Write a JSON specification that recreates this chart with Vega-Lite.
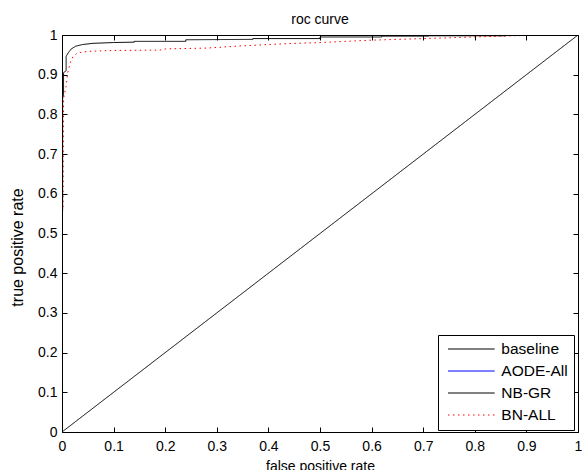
{
  "$schema": "https://vega.github.io/schema/vega-lite/v6.json",
  "width": 516,
  "height": 397,
  "autosize": {"type": "none"},
  "padding": {"left": 62, "top": 35, "right": 6, "bottom": 38},
  "background": "white",
  "config": {
    "font": "Liberation Sans",
    "view": {"stroke": null},
    "axis": {
      "domainColor": "black",
      "tickColor": "black",
      "labelColor": "black",
      "titleColor": "black",
      "labelFont": "Liberation Sans",
      "titleFont": "Liberation Sans",
      "labelFontSize": 14,
      "titleFontSize": 14,
      "titleFontWeight": "normal",
      "grid": false,
      "tickSize": -5,
      "zindex": 1
    },
    "legend": {
      "symbolType": "M-3.11,0H3.11",
      "symbolSize": 225,
      "symbolStrokeWidth": 1,
      "symbolOffset": 19.35,
      "labelOffset": 22,
      "labelFontSize": 15.5,
      "labelFont": "Liberation Sans",
      "labelColor": "black",
      "rowPadding": 5,
      "padding": 6,
      "strokeColor": "black",
      "fillColor": "white",
      "zindex": 2
    }
  },
  "title": {
    "text": "roc curve",
    "fontSize": 14,
    "fontWeight": "normal",
    "font": "Liberation Sans",
    "color": "black",
    "offset": 1
  },
  "data": {
    "values": [
      {"model": "AODE-All", "i": 0, "x": 0, "y": 0},
      {"model": "AODE-All", "i": 1, "x": 0, "y": 1},
      {"model": "AODE-All", "i": 2, "x": 1, "y": 1},
      {"model": "baseline", "i": 0, "x": 0, "y": 0},
      {"model": "baseline", "i": 1, "x": 1, "y": 1},
      {"model": "NB-GR", "i": 0, "x": 0, "y": 0},
      {"model": "NB-GR", "i": 1, "x": 0, "y": 0.55},
      {"model": "NB-GR", "i": 2, "x": 0.0012, "y": 0.56},
      {"model": "NB-GR", "i": 3, "x": 0.0012, "y": 0.84},
      {"model": "NB-GR", "i": 4, "x": 0.003, "y": 0.85},
      {"model": "NB-GR", "i": 5, "x": 0.003, "y": 0.905},
      {"model": "NB-GR", "i": 6, "x": 0.008, "y": 0.91},
      {"model": "NB-GR", "i": 7, "x": 0.008, "y": 0.946},
      {"model": "NB-GR", "i": 8, "x": 0.012, "y": 0.955},
      {"model": "NB-GR", "i": 9, "x": 0.018, "y": 0.965},
      {"model": "NB-GR", "i": 10, "x": 0.027, "y": 0.972},
      {"model": "NB-GR", "i": 11, "x": 0.04, "y": 0.976},
      {"model": "NB-GR", "i": 12, "x": 0.06, "y": 0.979},
      {"model": "NB-GR", "i": 13, "x": 0.1, "y": 0.981},
      {"model": "NB-GR", "i": 14, "x": 0.14, "y": 0.982},
      {"model": "NB-GR", "i": 15, "x": 0.14, "y": 0.984},
      {"model": "NB-GR", "i": 16, "x": 0.24, "y": 0.984},
      {"model": "NB-GR", "i": 17, "x": 0.24, "y": 0.988},
      {"model": "NB-GR", "i": 18, "x": 0.37, "y": 0.989},
      {"model": "NB-GR", "i": 19, "x": 0.37, "y": 0.991},
      {"model": "NB-GR", "i": 20, "x": 0.5, "y": 0.991},
      {"model": "NB-GR", "i": 21, "x": 0.5, "y": 0.995},
      {"model": "NB-GR", "i": 22, "x": 0.62, "y": 0.995},
      {"model": "NB-GR", "i": 23, "x": 0.62, "y": 0.997},
      {"model": "NB-GR", "i": 24, "x": 0.71, "y": 0.997},
      {"model": "NB-GR", "i": 25, "x": 0.71, "y": 0.998},
      {"model": "NB-GR", "i": 26, "x": 0.86, "y": 0.998},
      {"model": "NB-GR", "i": 27, "x": 0.86, "y": 1},
      {"model": "NB-GR", "i": 28, "x": 1, "y": 1},
      {"model": "BN-ALL", "i": 0, "x": 0, "y": 0},
      {"model": "BN-ALL", "i": 1, "x": 0, "y": 0.55},
      {"model": "BN-ALL", "i": 2, "x": 0.002, "y": 0.56},
      {"model": "BN-ALL", "i": 3, "x": 0.003, "y": 0.84},
      {"model": "BN-ALL", "i": 4, "x": 0.008, "y": 0.871},
      {"model": "BN-ALL", "i": 5, "x": 0.011, "y": 0.905},
      {"model": "BN-ALL", "i": 6, "x": 0.016, "y": 0.93},
      {"model": "BN-ALL", "i": 7, "x": 0.021, "y": 0.945},
      {"model": "BN-ALL", "i": 8, "x": 0.03, "y": 0.955},
      {"model": "BN-ALL", "i": 9, "x": 0.05, "y": 0.959},
      {"model": "BN-ALL", "i": 10, "x": 0.1, "y": 0.961},
      {"model": "BN-ALL", "i": 11, "x": 0.19, "y": 0.962},
      {"model": "BN-ALL", "i": 12, "x": 0.2, "y": 0.965},
      {"model": "BN-ALL", "i": 13, "x": 0.28, "y": 0.967},
      {"model": "BN-ALL", "i": 14, "x": 0.34, "y": 0.972},
      {"model": "BN-ALL", "i": 15, "x": 0.4, "y": 0.976},
      {"model": "BN-ALL", "i": 16, "x": 0.45, "y": 0.979},
      {"model": "BN-ALL", "i": 17, "x": 0.5, "y": 0.981},
      {"model": "BN-ALL", "i": 18, "x": 0.55, "y": 0.984},
      {"model": "BN-ALL", "i": 19, "x": 0.6, "y": 0.987},
      {"model": "BN-ALL", "i": 20, "x": 0.65, "y": 0.989},
      {"model": "BN-ALL", "i": 21, "x": 0.7, "y": 0.991},
      {"model": "BN-ALL", "i": 22, "x": 0.75, "y": 0.993},
      {"model": "BN-ALL", "i": 23, "x": 0.8, "y": 0.995},
      {"model": "BN-ALL", "i": 24, "x": 0.85, "y": 0.997},
      {"model": "BN-ALL", "i": 25, "x": 0.9, "y": 0.999},
      {"model": "BN-ALL", "i": 26, "x": 0.93, "y": 1},
      {"model": "BN-ALL", "i": 27, "x": 1, "y": 1}
    ]
  },
  "layer": [
    {
      "mark": {"type": "line", "strokeWidth": 1, "clip": true},
      "encoding": {
        "x": {
          "field": "x", "type": "quantitative",
          "scale": {"domain": [0, 1], "nice": false, "zero": false},
          "axis": {
            "orient": "bottom",
            "values": [0, 0.1, 0.2, 0.3, 0.4, 0.5, 0.6, 0.7, 0.8, 0.9, 1],
            "format": "~g",
            "labelPadding": 12,
            "labelFlush": false,
            "title": "false positive rate",
            "titlePadding": 6,
            "zindex": 1
          }
        },
        "y": {
          "field": "y", "type": "quantitative",
          "scale": {"domain": [0, 1], "nice": false, "zero": false},
          "axis": {
            "orient": "left",
            "values": [0, 0.1, 0.2, 0.3, 0.4, 0.5, 0.6, 0.7, 0.8, 0.9, 1],
            "format": "~g",
            "labelPadding": 10,
            "labelFlush": false,
            "title": "true positive rate",
            "titleFontSize": 16,
            "titlePadding": 12,
            "titleY": 212,
            "zindex": 1
          }
        },
        "color": {
          "field": "model", "type": "nominal",
          "scale": {
            "domain": ["baseline", "AODE-All", "NB-GR", "BN-ALL"],
            "range": ["#000000", "#0000ff", "#000000", "#ff0000"]
          },
          "legend": {
            "title": null,
            "orient": "none",
            "legendX": 376,
            "legendY": 300
          }
        },
        "strokeDash": {
          "field": "model", "type": "nominal",
          "scale": {
            "domain": ["baseline", "AODE-All", "NB-GR", "BN-ALL"],
            "range": [[1, 0], [1, 0], [1, 0], [1.5, 3.5]]
          },
          "legend": {
            "title": null,
            "orient": "none",
            "legendX": 376,
            "legendY": 300
          }
        },
        "order": {"field": "i", "type": "quantitative"}
      }
    },
    {
      "mark": {"type": "line", "opacity": 0},
      "encoding": {
        "x": {
          "field": "x", "type": "quantitative",
          "axis": {
            "orient": "top",
            "values": [0, 0.1, 0.2, 0.3, 0.4, 0.5, 0.6, 0.7, 0.8, 0.9, 1],
            "labels": false,
            "title": null,
            "zindex": 1
          }
        },
        "y": {
          "field": "y", "type": "quantitative",
          "axis": {
            "orient": "right",
            "values": [0, 0.1, 0.2, 0.3, 0.4, 0.5, 0.6, 0.7, 0.8, 0.9, 1],
            "labels": false,
            "title": null,
            "zindex": 1
          }
        }
      }
    }
  ],
  "resolve": {"axis": {"x": "independent", "y": "independent"}}
}
